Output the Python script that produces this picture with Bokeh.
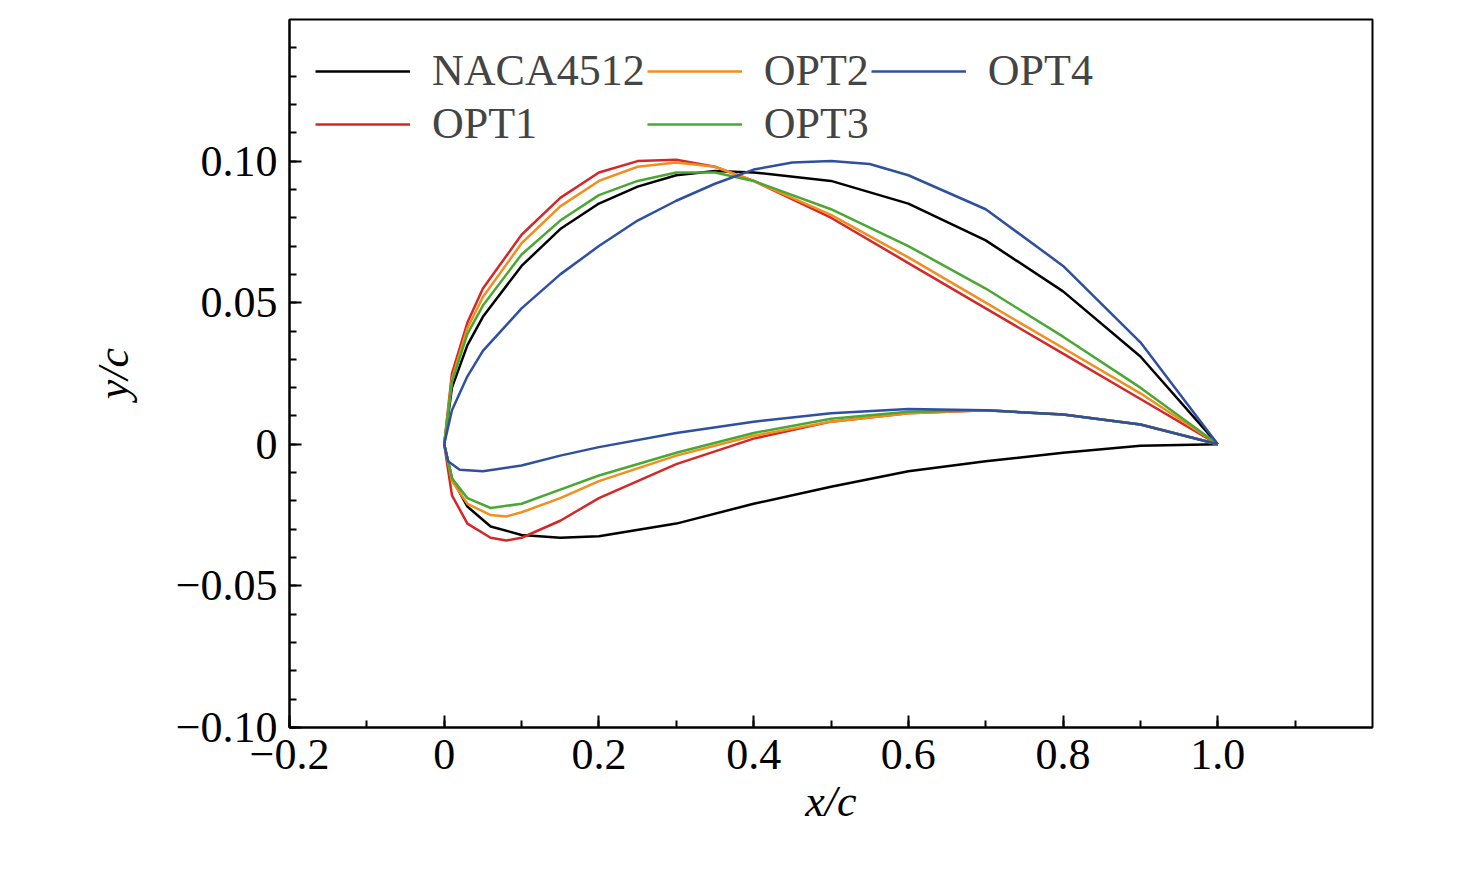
from bokeh.plotting import figure
from bokeh.models import Legend, LegendItem, SingleIntervalTicker
from bokeh.embed import file_html
from bokeh.resources import INLINE

names = ["NACA4512", "OPT1", "OPT2", "OPT3", "OPT4"]
colors = ["#000000", "#d62728", "#f28e1c", "#4aa832", "#2f4fa0"]

naca_ux = [0, 0.01, 0.03, 0.05, 0.1, 0.15, 0.2, 0.25, 0.3, 0.35, 0.4, 0.5, 0.6, 0.7, 0.8, 0.9, 1.0]
naca_uy = [0, 0.02, 0.035, 0.045, 0.063, 0.076, 0.085, 0.091, 0.095, 0.0965, 0.096, 0.093, 0.085, 0.072, 0.054, 0.031, 0]
naca_lx = [0, 0.01, 0.03, 0.06, 0.1, 0.15, 0.2, 0.3, 0.4, 0.5, 0.6, 0.7, 0.8, 0.9, 1.0]
naca_ly = [0, -0.012, -0.022, -0.029, -0.032, -0.033, -0.0325, -0.028, -0.021, -0.015, -0.0095, -0.006, -0.003, -0.0005, 0]

opt1_ux = [0, 0.01, 0.03, 0.05, 0.1, 0.15, 0.2, 0.25, 0.3, 0.35, 0.4, 0.5, 0.6, 0.7, 0.8, 0.9, 1.0]
opt1_uy = [0, 0.025, 0.043, 0.055, 0.074, 0.087, 0.096, 0.1, 0.1005, 0.098, 0.093, 0.08, 0.064, 0.048, 0.032, 0.016, 0]
opt1_lx = [0, 0.01, 0.03, 0.06, 0.08, 0.1, 0.15, 0.2, 0.3, 0.4, 0.5, 0.6, 0.7, 0.8, 0.9, 1.0]
opt1_ly = [0, -0.018, -0.028, -0.033, -0.034, -0.033, -0.027, -0.019, -0.007, 0.002, 0.008, 0.011, 0.012, 0.0105, 0.007, 0]

opt2_ux = [0, 0.01, 0.03, 0.05, 0.1, 0.15, 0.2, 0.25, 0.3, 0.35, 0.4, 0.5, 0.6, 0.7, 0.8, 0.9, 1.0]
opt2_uy = [0, 0.023, 0.041, 0.052, 0.071, 0.084, 0.093, 0.098, 0.0995, 0.098, 0.093, 0.081, 0.066, 0.05, 0.034, 0.018, 0]
opt2_lx = [0, 0.01, 0.03, 0.06, 0.08, 0.1, 0.15, 0.2, 0.3, 0.4, 0.5, 0.6, 0.7, 0.8, 0.9, 1.0]
opt2_ly = [0, -0.013, -0.021, -0.025, -0.0255, -0.024, -0.019, -0.013, -0.004, 0.003, 0.008, 0.011, 0.012, 0.0105, 0.007, 0]

opt3_ux = [0, 0.01, 0.03, 0.05, 0.1, 0.15, 0.2, 0.25, 0.3, 0.35, 0.4, 0.5, 0.6, 0.7, 0.8, 0.9, 1.0]
opt3_uy = [0, 0.022, 0.039, 0.049, 0.067, 0.079, 0.088, 0.093, 0.096, 0.096, 0.093, 0.083, 0.07, 0.055, 0.038, 0.02, 0]
opt3_lx = [0, 0.01, 0.03, 0.06, 0.1, 0.15, 0.2, 0.3, 0.4, 0.5, 0.6, 0.7, 0.8, 0.9, 1.0]
opt3_ly = [0, -0.012, -0.019, -0.0225, -0.021, -0.016, -0.011, -0.003, 0.004, 0.009, 0.0115, 0.012, 0.0105, 0.007, 0]

opt4_ux = [0, 0.01, 0.03, 0.05, 0.1, 0.15, 0.2, 0.25, 0.3, 0.35, 0.4, 0.45, 0.5, 0.55, 0.6, 0.7, 0.8, 0.9, 1.0]
opt4_uy = [0, 0.012, 0.024, 0.033, 0.048, 0.06, 0.07, 0.079, 0.086, 0.092, 0.097, 0.0995, 0.1, 0.099, 0.095, 0.083, 0.063, 0.036, 0]
opt4_lx = [0, 0.005, 0.02, 0.05, 0.1, 0.15, 0.2, 0.3, 0.4, 0.5, 0.6, 0.7, 0.8, 0.9, 1.0]
opt4_ly = [0, -0.006, -0.009, -0.0095, -0.0075, -0.004, -0.001, 0.004, 0.008, 0.011, 0.0125, 0.012, 0.0105, 0.007, 0]

series = [(naca_ux, naca_uy, naca_lx, naca_ly), (opt1_ux, opt1_uy, opt1_lx, opt1_ly),
          (opt2_ux, opt2_uy, opt2_lx, opt2_ly), (opt3_ux, opt3_uy, opt3_lx, opt3_ly),
          (opt4_ux, opt4_uy, opt4_lx, opt4_ly)]

FONT = "Liberation Serif"
p = figure(width=1460, height=872, x_range=(-0.2, 1.2), y_range=(-0.10, 0.15),
           output_backend="svg", toolbar_location=None,
           min_border_left=289, min_border_right=88, min_border_top=19, min_border_bottom=145)
p.grid.visible = False
p.outline_line_color = "black"
p.outline_line_width = 2

items = []
for name, col, (ux, uy, lx, ly) in zip(names, colors, series):
    xs = list(reversed(ux)) + lx[1:]
    ys = list(reversed(uy)) + ly[1:]
    r = p.line(xs, ys, line_color=col, line_width=2.5)
    items.append(LegendItem(label=name, renderers=[r]))

p.xaxis.ticker = SingleIntervalTicker(interval=0.2, num_minor_ticks=2)
p.yaxis.ticker = SingleIntervalTicker(interval=0.05, num_minor_ticks=5)
p.xaxis.major_label_overrides = {-0.2: "\u22120.2", 0: "0", 0.2: "0.2", 0.4: "0.4", 0.6: "0.6",
                                 0.8: "0.8", 1: "1.0", 1.2: "1.2"}
p.yaxis.major_label_overrides = {-0.1: "\u22120.10", -0.05: "\u22120.05", 0: "0", 0.05: "0.05",
                                 0.1: "0.10", 0.15: "0.15"}
for ax in (p.xaxis[0], p.yaxis[0]):
    ax.major_label_text_font = FONT
    ax.major_label_text_font_size = "44px"
    ax.major_label_text_color = "black"
    ax.axis_line_width = 2
    ax.axis_line_color = "black"
    ax.major_tick_in = 12
    ax.major_tick_out = 0
    ax.minor_tick_in = 7
    ax.minor_tick_out = 0
    ax.major_tick_line_width = 2
    ax.minor_tick_line_width = 2
    ax.axis_label_text_font = FONT
    ax.axis_label_text_font_size = "44px"
    ax.axis_label_text_font_style = "italic"
    ax.axis_label_text_color = "black"
    ax.major_label_standoff = 12
p.xaxis.axis_label = "x/c"
p.yaxis.axis_label = "y/c"
p.xaxis.axis_label_standoff = 5
p.yaxis.axis_label_standoff = 35

leg = Legend(items=items, ncols=3, location="top_left", border_line_alpha=0,
             background_fill_alpha=0, label_text_font=FONT, label_text_font_size="44px",
             glyph_width=95, glyph_height=30, label_standoff=22, spacing=2,
             padding=4, margin=22, label_height=44)
p.add_layout(leg)

open("out.html", "w").write(file_html(p, INLINE))
